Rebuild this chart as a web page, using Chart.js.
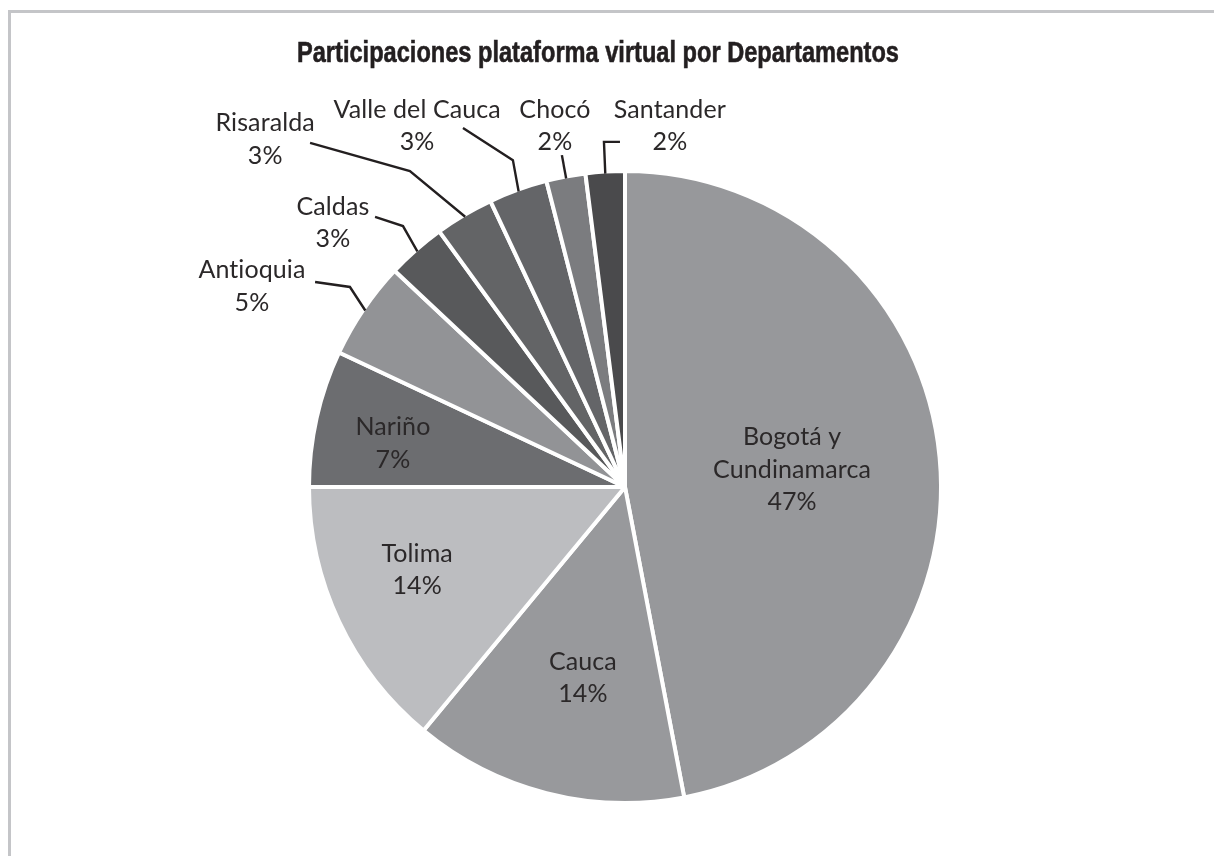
<!DOCTYPE html>
<html lang="es">
<head>
    <meta charset="UTF-8">
    <title>Participaciones plataforma virtual por Departamentos</title>
    <script src="https://cdn.jsdelivr.net/npm/chart.js"></script>
    <style>
        html, body {
            margin: 0;
            padding: 0;
            background: #ffffff;
        }
        .container {
            width: 1214px;
            height: 856px;
        }
    </style>
</head>
<body>

    <div class="container">
        <canvas id="pieChart" width="1214" height="856"></canvas>
    </div>

    <script>
        // datos
        const departamentos = [
            ['Bogotá y', 'Cundinamarca'], 'Cauca', 'Tolima', 'Nariño', 'Antioquia',
            'Caldas', 'Risaralda', 'Valle del Cauca', 'Chocó', 'Santander'
        ];
        const porcentajes = [47, 14, 14, 7, 5, 3, 3, 3, 2, 2];
        const colores = [
            '#97989b', '#98999c', '#bcbdc0', '#6c6d70', '#929396',
            '#58595b', '#636466', '#646568', '#7b7c7f', '#4a4a4c'
        ];

        // posición de cada etiqueta (en unidades del radio, desde el centro)
        // codo / fin = puntos de la línea guía para las etiquetas exteriores
        const posEtiquetas = [
            { dx: 0.532, dy: -0.159 },
            { dx: -0.134, dy: 0.557 },
            { dx: -0.662, dy: 0.213 },
            { dx: -0.739, dy: -0.191 },
            { dx: -1.188, dy: -0.691, codo: [-0.876, -0.637], fin: [-0.987, -0.653] },
            { dx: -0.930, dy: -0.892, codo: [-0.707, -0.831], fin: [-0.796, -0.860] },
            { dx: -1.146, dy: -1.159, codo: [-0.685, -1.006], fin: [-1.003, -1.096] },
            { dx: -0.662, dy: -1.201, codo: [-0.357, -1.041], fin: [-0.516, -1.143] },
            { dx: -0.223, dy: -1.201, codo: [-0.201, -1.057], fin: [-0.201, -1.057] },
            { dx: 0.143, dy: -1.201, codo: [-0.067, -1.099], fin: [-0.016, -1.099] }
        ];

        const fuente = 'Lato, "Open Sans", sans-serif';
        const titulo = 'Participaciones plataforma virtual por Departamentos';

        // marco, título y etiquetas con líneas guía
        const etiquetasPlugin = {
            id: 'etiquetas',
            beforeDraw(chart) {
                const ctx = chart.ctx;
                ctx.save();
                ctx.strokeStyle = '#c4c5c8';
                ctx.lineWidth = 3;
                ctx.beginPath();
                ctx.moveTo(9.5, chart.height);
                ctx.lineTo(9.5, 11.5);
                ctx.lineTo(chart.width, 11.5);
                ctx.stroke();
                ctx.restore();
            },
            afterDraw(chart) {
                const ctx = chart.ctx;
                const arcs = chart.getDatasetMeta(0).data;
                ctx.save();

                // título (condensado a lo ancho del original)
                ctx.fillStyle = '#231f20';
                ctx.font = 'bold 29px "Liberation Sans", Arial, sans-serif';
                ctx.textAlign = 'center';
                ctx.textBaseline = 'alphabetic';
                const ancho = ctx.measureText(titulo).width;
                const esc = Math.min(1, 602 / ancho);
                ctx.save();
                ctx.translate(598, 62);
                ctx.scale(esc, 1);
                ctx.fillText(titulo, 0, 0);
                ctx.strokeStyle = '#231f20';
                ctx.lineWidth = 0.6;
                ctx.strokeText(titulo, 0, 0);
                ctx.restore();

                ctx.fillStyle = '#2b2829';
                ctx.font = '25px ' + fuente;
                ctx.letterSpacing = '0.1px'; // evita la ligadura "ti"
                ctx.textBaseline = 'middle';
                ctx.strokeStyle = '#231f20';
                ctx.lineWidth = 2.4;

                arcs.forEach((arc, i) => {
                    const cx = arc.x, cy = arc.y;
                    const r = arc.outerRadius - 2;
                    const p = posEtiquetas[i];

                    if (p.codo) {
                        const mid = (arc.startAngle + arc.endAngle) / 2;
                        ctx.beginPath();
                        ctx.moveTo(cx + Math.cos(mid) * r, cy + Math.sin(mid) * r);
                        ctx.lineTo(cx + p.codo[0] * r, cy + p.codo[1] * r);
                        ctx.lineTo(cx + p.fin[0] * r, cy + p.fin[1] * r);
                        ctx.stroke();
                    }

                    const lineas = [].concat(departamentos[i], porcentajes[i] + '%');
                    const x = cx + p.dx * r;
                    let y = cy + p.dy * r;
                    lineas.forEach(t => {
                        ctx.fillText(t, x, y);
                        y += 32.5;
                    });
                });
                ctx.restore();
            }
        };

        new Chart(document.getElementById('pieChart'), {
            type: 'pie',
            data: {
                labels: departamentos,
                datasets: [{
                    data: porcentajes,
                    backgroundColor: colores,
                    borderColor: '#ffffff',
                    borderWidth: 4,
                    hoverOffset: 0
                }]
            },
            options: {
                responsive: false,
                animation: false,
                radius: 316,
                layout: {
                    padding: { left: 305, right: 269, top: 167, bottom: 49 }
                },
                plugins: {
                    legend: { display: false },
                    tooltip: { enabled: false },
                    title: { display: false }
                }
            },
            plugins: [etiquetasPlugin]
        });
    </script>

</body>
</html>
